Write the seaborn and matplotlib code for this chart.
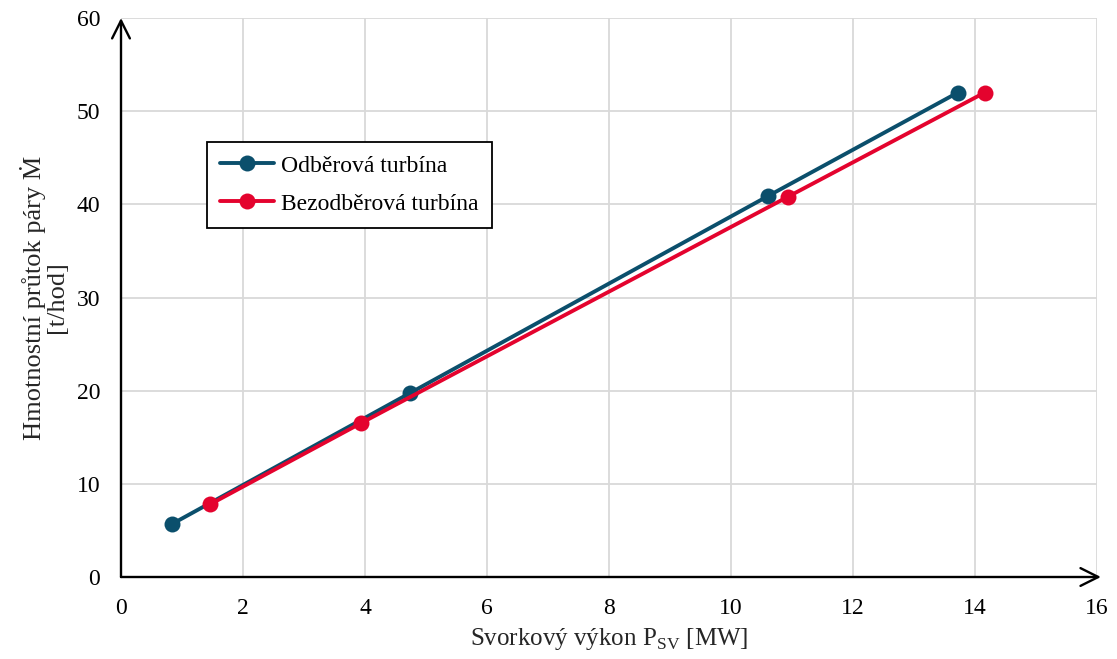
import pandas as pd
import numpy as np
import matplotlib
matplotlib.use('Agg')
import matplotlib.pyplot as plt
import seaborn as sns

# Data
odb_power = [0.84, 4.74, 10.61, 13.72]
odb_flow = [5.7, 19.75, 40.9, 52.0]
bez_power = [1.46, 3.93, 10.93, 14.16]
bez_flow = [7.8, 16.5, 40.8, 52.0]
series_names = ['Odběrová turbína', 'Bezodběrová turbína']
colors = ['#0b4f6c', '#e4032e']
x_ticks = [0, 2, 4, 6, 8, 10, 12, 14, 16]
y_ticks = [0, 10, 20, 30, 40, 50, 60]

df = pd.concat([
    pd.DataFrame({'P': odb_power, 'M': odb_flow, 'serie': series_names[0]}),
    pd.DataFrame({'P': bez_power, 'M': bez_flow, 'serie': series_names[1]}),
])

sns.set_style('white')
plt.rcParams['font.family'] = ['Liberation Serif', 'DejaVu Serif']
plt.rcParams['mathtext.fontset'] = 'custom'
plt.rcParams['mathtext.rm'] = 'Liberation Serif'
plt.rcParams['text.color'] = 'black'

fig = plt.figure(figsize=(11.17, 6.59), dpi=100)
ax = fig.add_axes([121 / 1117, 82 / 659, 976 / 1117, 559 / 659])

sns.lineplot(data=df, x='P', y='M', hue='serie', palette=colors, marker='o',
             markersize=11.5, markeredgewidth=0, linewidth=2.8, ax=ax, sort=False)

ax.set_xlim(0, 16)
ax.set_ylim(0, 60)
ax.set_xticks(x_ticks)
ax.set_yticks(y_ticks)
ax.grid(True, color='#d9d9d9', linewidth=1.3)
ax.set_axisbelow(True)
for s in ax.spines.values():
    s.set_visible(False)
ax.tick_params(length=0, labelsize=17, colors='black', pad=15)

# axis arrows
ax.annotate('', xy=(0, 1.0), xytext=(0, 0), xycoords='axes fraction',
            arrowprops=dict(arrowstyle='->', color='black', lw=1.7,
                            mutation_scale=32, shrinkA=0, shrinkB=0), zorder=5)
ax.annotate('', xy=(1.004, 0), xytext=(0, 0), xycoords='axes fraction',
            arrowprops=dict(arrowstyle='->', color='black', lw=1.7,
                            mutation_scale=32, shrinkA=0, shrinkB=0), zorder=5)

ax.set_xlabel('Svorkový výkon P$_{\\mathrm{SV}}$ [MW]', fontsize=18, labelpad=5)
ax.set_ylabel('Hmotnostní průtok páry Ṁ\n[t/hod]', fontsize=19, labelpad=6,
              linespacing=1.0)

leg = ax.legend(loc='upper left', bbox_to_anchor=(0.088, 0.778), fontsize=17,
                frameon=True, fancybox=False, edgecolor='black', framealpha=1,
                handlelength=2.3, borderpad=0.55, labelspacing=0.7,
                handletextpad=0.3, borderaxespad=0)
leg.get_frame().set_linewidth(1.3)

fig.savefig('out.png', dpi=100)
